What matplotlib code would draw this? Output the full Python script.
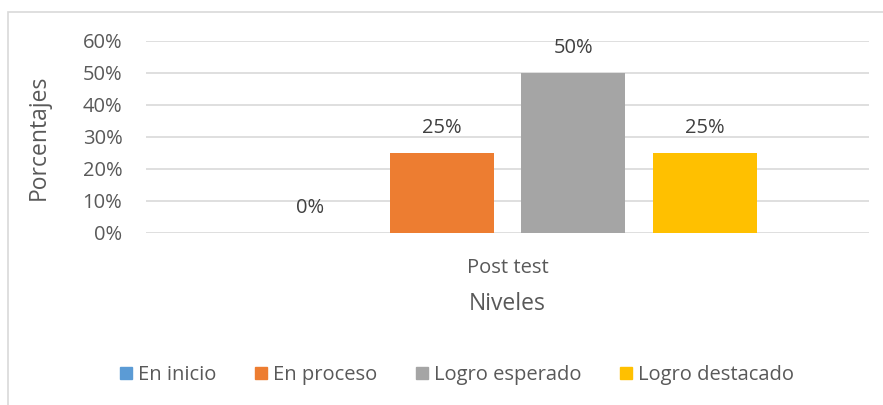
import matplotlib.pyplot as plt
from matplotlib.patches import Rectangle, Patch

plt.rcParams['font.family'] = ['Open Sans', 'DejaVu Sans']

categoria = "Post test"
niveles = ["En inicio", "En proceso", "Logro esperado", "Logro destacado"]
porcentajes = [0, 25, 50, 25]
colores = ["#5B9BD5", "#ED7D31", "#A5A5A5", "#FFC000"]

texto = "#595959"

fig = plt.figure(figsize=(8.83, 4.05), dpi=100)
ax = fig.add_axes([146 / 883, 1 - 233 / 405, 723 / 883, 192 / 405])

ancho = 0.1438
paso = 0.1819
for i, (nivel, valor, color) in enumerate(zip(niveles, porcentajes, colores)):
    x = (i - 1.5) * paso
    barras = ax.bar(x, valor, width=ancho, color=color, label=nivel, zorder=3)
    ax.bar_label(barras, labels=[f"{valor}%"], padding=11, fontsize=14.5, color="#404040")

ax.set_xlim(-0.5, 0.5)
ax.set_ylim(0, 60)
ax.set_yticks(range(0, 61, 10))
ax.set_yticklabels([f"{v}%" for v in range(0, 61, 10)], fontsize=14.5, color=texto)
ax.set_xticks([0])
ax.set_xticklabels([categoria], fontsize=14.5, color=texto)
ax.tick_params(length=0, pad=17)
ax.tick_params(axis="x", pad=18)
ax.grid(axis="y", color="#D9D9D9", linewidth=1.2, zorder=0)
for s in ax.spines.values():
    s.set_visible(False)

ax.set_ylabel("Porcentajes", fontsize=16.5, color=texto, labelpad=23)
ax.set_xlabel("Niveles", fontsize=16.5, color=texto, labelpad=10)

handles = [Patch(color=c, label=n) for n, c in zip(niveles, colores)]
fig.legend(handles=handles, loc="center", bbox_to_anchor=(457 / 883, 1 - 375 / 405), ncol=4,
           frameon=False, fontsize=14.5, labelcolor=texto, handlelength=0.6,
           handleheight=0.6, handletextpad=0.3, columnspacing=1.9)

marco = Rectangle((8 / 883, -0.1), 1.1, 1.1 - 12 / 405, transform=fig.transFigure,
                  fill=False, edgecolor="#D9D9D9", linewidth=1.2, clip_on=False)
fig.patches.append(marco)

fig.savefig("out.png", dpi=100)
